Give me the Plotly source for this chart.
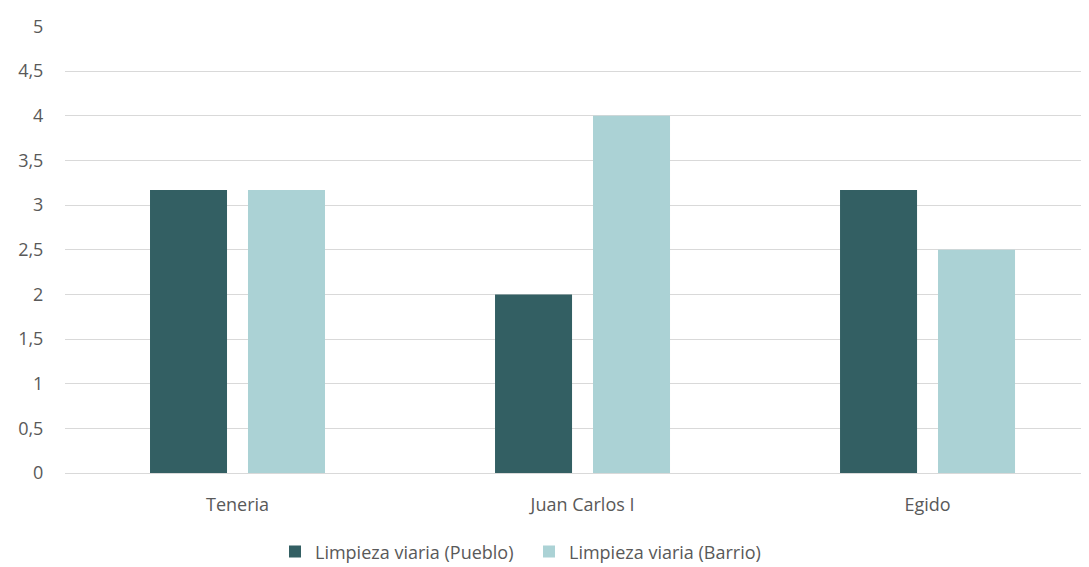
import plotly.graph_objects as go

categories = ["Teneria", "Juan Carlos I", "Egido"]
pueblo = [3.17, 2, 3.17]
barrio = [3.17, 4, 2.5]
series_names = ["Limpieza viaria (Pueblo)", "Limpieza viaria (Barrio)"]
y_ticks = [0, 0.5, 1, 1.5, 2, 2.5, 3, 3.5, 4, 4.5, 5]

fig = go.Figure()
fig.add_trace(go.Bar(x=categories, y=pueblo, name=series_names[0],
                     marker=dict(color="#335F63", line=dict(width=0)), hoverinfo="skip"))
fig.add_trace(go.Bar(x=categories, y=barrio, name=series_names[1],
                     marker=dict(color="#ABD2D5", line=dict(width=0)), hoverinfo="skip"))

ff = "Open Sans, Noto Sans, sans-serif"
fig.update_layout(
    width=1081, height=559,
    margin=dict(l=57, r=0, t=18, b=94, autoexpand=False),
    paper_bgcolor="white", plot_bgcolor="white",
    barmode="group", bargap=0.432, bargroupgap=0.214,
    separators=",.",
    font=dict(family=ff, size=18, color="#595959"),
    showlegend=True,
    legend=dict(orientation="h", xref="container", x=0.247, xanchor="left",
                yref="container", y=0.027, yanchor="middle",
                font=dict(family=ff, size=18, color="#595959"),
                itemwidth=30, entrywidth=209, entrywidthmode="pixels",
                traceorder="normal"),
    xaxis=dict(range=[-0.5, 2.468], showgrid=False, showline=False, zeroline=False,
               ticks="outside", ticklen=15, tickcolor="rgba(0,0,0,0)",
               tickfont=dict(family=ff, size=18, color="#595959")),
    yaxis=dict(range=[0, 5.005], tickvals=y_ticks, showgrid=True, gridcolor="#D9D9D9", gridwidth=1,
               zeroline=True, zerolinecolor="#D9D9D9", zerolinewidth=1, showline=False,
               ticks="outside", ticklen=17, tickcolor="rgba(0,0,0,0)",
               tickfont=dict(family=ff, size=18, color="#595959")),
)
fig.write_html("out.html")
